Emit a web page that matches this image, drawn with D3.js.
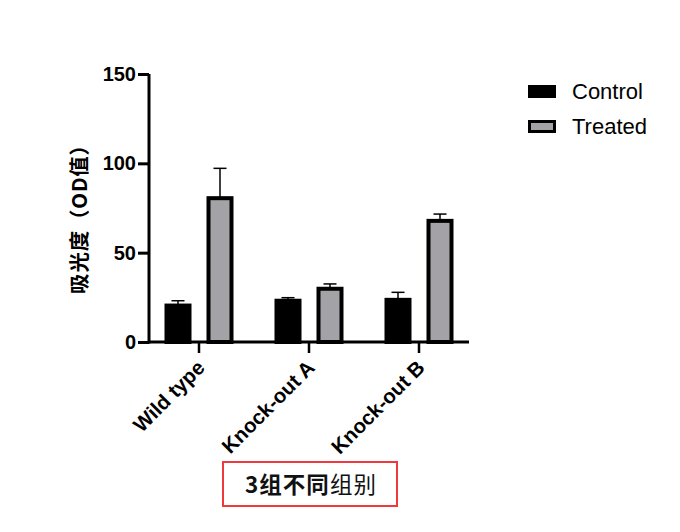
<!DOCTYPE html>
<html><head><meta charset="utf-8">
<script src="https://cdn.jsdelivr.net/npm/d3@7"></script>
<style>body{margin:0;background:#fff}svg{display:block}</style>
</head><body>
<svg id="c" width="680" height="532"></svg>
<script>
const categories = ["Wild type", "Knock-out A", "Knock-out B"];
const series = ["Control", "Treated"];
const controlMean = [20.4, 23.1, 23.6];
const controlSD = [2.7, 1.7, 4.2];
const treatedMean = [80.5, 29.8, 67.8];
const treatedSD = [16.7, 2.7, 3.8];
const yTicks = [0, 50, 100, 150];
const yLabel = "吸光度（OD值）";
const xTitleBold = "3组不同";
const xTitleRegular = "组别";

const colors = {Control: "#000000", Treated: "#a3a3a7"};
const svg = d3.select("#c");
const latin = "'Liberation Sans', Arial, sans-serif";
const cjk = "'Noto Sans CJK SC', 'Liberation Sans', sans-serif";

const y = d3.scaleLinear().domain([0, 150]).range([342, 74]);
const x0 = d3.scaleBand().domain(categories).range([144, 474]);
const x1 = d3.scalePoint().domain(series).range([-21, 21]);
const barW = 23;

const data = [];
categories.forEach((c, i) => {
  data.push({cat: c, s: "Control", m: controlMean[i], sd: controlSD[i]});
  data.push({cat: c, s: "Treated", m: treatedMean[i], sd: treatedSD[i]});
});
const cx = d => x0(d.cat) + x0.bandwidth() / 2 + x1(d.s);

// error bars (upper only)
const eb = svg.append("g").attr("stroke", "#000").attr("stroke-width", 1.5);
eb.selectAll("line.v").data(data).join("line")
  .attr("x1", cx).attr("x2", cx)
  .attr("y1", d => y(d.m)).attr("y2", d => y(d.m + d.sd));
eb.selectAll("line.h").data(data).join("line")
  .attr("x1", d => cx(d) - 6.5).attr("x2", d => cx(d) + 6.5)
  .attr("y1", d => y(d.m + d.sd)).attr("y2", d => y(d.m + d.sd));

// bars
svg.append("g").selectAll("rect").data(data).join("rect")
  .attr("x", d => cx(d) - barW / 2)
  .attr("width", barW)
  .attr("y", d => y(d.m))
  .attr("height", d => y(0) - y(d.m))
  .attr("fill", d => colors[d.s])
  .attr("stroke", "#000").attr("stroke-width", 4);

// y axis
const ya = svg.append("g").attr("transform", "translate(149,0)")
  .call(d3.axisLeft(y).tickValues(yTicks).tickSize(11).tickPadding(2).tickFormat(d3.format("d")));
ya.select(".domain").attr("stroke-width", 3).attr("d", `M0,${y(150)}V${y(0)+1.5}`);
ya.selectAll(".tick line").attr("stroke-width", 3);
ya.selectAll(".tick text").attr("font-family", latin).attr("font-weight", "bold")
  .attr("font-size", 20).attr("fill", "#000");

// x axis
const xa = svg.append("g").attr("transform", `translate(0,${y(0)})`)
  .call(d3.axisBottom(x0).tickSize(11).tickSizeOuter(0));
xa.select(".domain").attr("stroke-width", 3).attr("d", "M148,0H469");
xa.selectAll(".tick line").attr("stroke-width", 2.5);
xa.selectAll(".tick text")
  .attr("font-family", latin).attr("font-weight", "bold").attr("font-size", 20.5)
  .attr("fill", "#000")
  .attr("text-anchor", "end")
  .attr("dy", null).attr("y", 0)
  .attr("transform", "translate(7,27) rotate(-45)");

// y label
svg.append("text")
  .attr("transform", "translate(87,214) rotate(-90)")
  .attr("text-anchor", "middle")
  .attr("font-family", cjk).attr("font-weight", "bold").attr("font-size", 20.5)
  .attr("letter-spacing", 0.8)
  .attr("fill", "#000")
  .text(yLabel);

// x title box
svg.append("rect").attr("x", 223).attr("y", 462).attr("width", 174).attr("height", 44)
  .attr("fill", "none").attr("stroke", "#f0393c").attr("stroke-width", 2);
const tt = svg.append("text").attr("x", 311).attr("y", 493)
  .attr("text-anchor", "middle").attr("font-family", cjk).attr("font-size", 22.5)
  .attr("letter-spacing", 1).attr("fill", "#111");
tt.append("tspan").attr("font-weight", "bold").text(xTitleBold);
tt.append("tspan").attr("font-weight", "normal").text(xTitleRegular);

// legend
const lg = svg.append("g");
const ly = [91.5, 126.5];
series.forEach((s, i) => {
  lg.append("rect")
    .attr("x", s === "Control" ? 528 : 529.5)
    .attr("y", s === "Control" ? ly[i] - 6.5 : ly[i] - 5)
    .attr("width", s === "Control" ? 28 : 25)
    .attr("height", s === "Control" ? 13 : 10)
    .attr("fill", colors[s])
    .attr("stroke", "#000").attr("stroke-width", s === "Control" ? 0 : 3);
  lg.append("text").attr("x", 572).attr("y", ly[i] + 7.5)
    .attr("font-family", latin).attr("font-size", 22).attr("fill", "#000")
    .text(s);
});
</script>
</body></html>
